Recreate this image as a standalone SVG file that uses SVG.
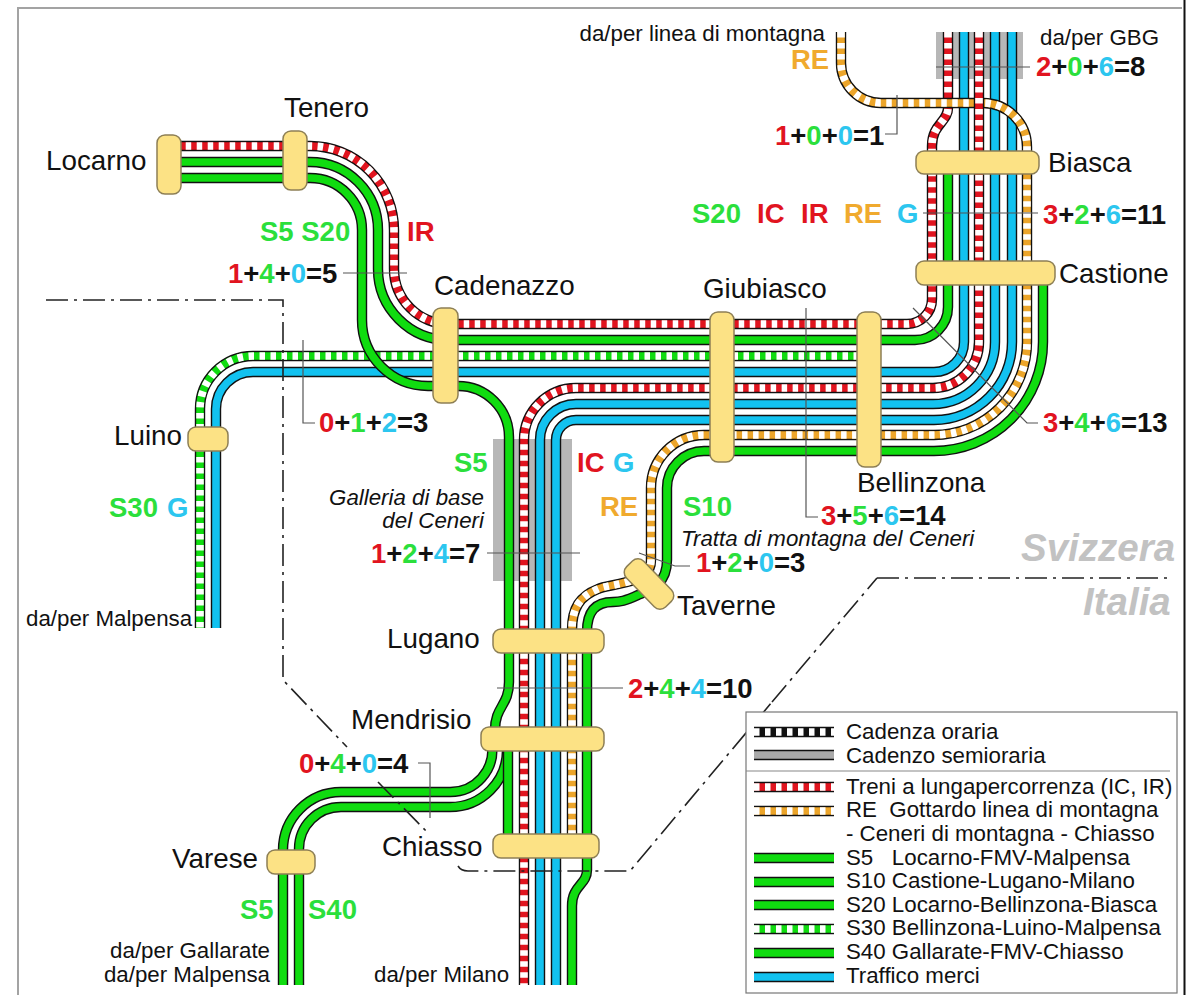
<svg xmlns="http://www.w3.org/2000/svg" xmlns:xlink="http://www.w3.org/1999/xlink" width="1187" height="995" viewBox="0 0 1187 995">
<style>
text{font-family:"Liberation Sans",Arial,sans-serif;fill:#111}
.n{font-size:27.8px}
.s{font-size:22.3px}
.i{font-size:22.3px;font-style:italic}
.b{font-size:27.5px;font-weight:bold}
.R{fill:#e1141f}.G{fill:#2bdf3c}.B{fill:#2cc6ef}.O{fill:#f0aa2e}.K{fill:#111}
.geo{font-size:38.5px;font-weight:bold;font-style:italic;fill:#c2c2c2}
.tr{fill:none;stroke-linecap:butt}
.k{stroke:#111;stroke-width:10.4}
.red{stroke:#e1141f;stroke-width:7.6}
.grn{stroke:#10dc10;stroke-width:7.6}
.blu{stroke:#12c2f0;stroke-width:7.6}
.org{stroke:#eca52a;stroke-width:7.6}
.wd{stroke:#fff;stroke-width:7.6;stroke-dasharray:5.5 5.5}
.node{fill:#fce285;stroke:#8d7f55;stroke-width:1.5}
.lead{fill:none;stroke:#555;stroke-width:1.2}
.bord{fill:none;stroke:#222;stroke-width:1.6;stroke-dasharray:22 6 3 6}
.gray{fill:#b7b7b7}
</style>
<defs>
<path id="pRed1" d="M948 32V108C948 122 932 124 932 146V299A25 25 0 0 1 907 324H449A55 55 0 0 1 394 269V230A84 84 0 0 0 310 146H170"/>
<path id="pRed2" d="M979 32V342A46 46 0 0 1 933 388H576A52 52 0 0 0 524 440V985"/>
<path id="pOrgTop" d="M841 32V63A40 40 0 0 0 881 103H983A44 44 0 0 1 1027 147V342A93 93 0 0 1 934 435H704A53 53 0 0 0 651 488V560C651 575 640 579 627 582C612 586 605 586 598 589C580 596 572 608 572 630V845"/>
<path id="pS30" d="M870 356H253A53 53 0 0 0 200 409V628"/>
<path id="pS20" d="M948 165V307A33 33 0 0 1 915 340H449A71 71 0 0 1 378 269V230A68 68 0 0 0 310 162H170"/>
<path id="pS5" d="M170 178H310A52 52 0 0 1 362 230V320A66 66 0 0 0 428 386H458A51 51 0 0 1 509 437V682C509 706 495 706 495 730"/>
<path id="pS10" d="M1043 272V342A109 109 0 0 1 934 451H704A37 37 0 0 0 667 488V560C667 585 650 590 638 595C625 601 620 602 613 602C595 602 587 612 587 632V870C587 885 572 885 572 906V985"/>
<path id="pS40a" d="M492 745A42 42 0 0 1 450 792H341A58 58 0 0 0 283 850V985"/>
<path id="pS40b" d="M507 750A57 57 0 0 1 450 807H341A42 42 0 0 0 299 849V985"/>
<path id="pS40c" d="M508 740V845"/>
<path id="pB0" d="M216 628V409A37 37 0 0 1 253 372H934A30 30 0 0 0 964 342V32"/>
<path id="pB1" d="M995 32V342A62 62 0 0 1 933 404H576A36 36 0 0 0 540 440V985"/>
<path id="pB2" d="M1012 32V342A78 78 0 0 1 934 420H576A20 20 0 0 0 556 440V985"/>
</defs>

<g id="frame">
<path d="M18 995V8H1182" fill="none" stroke="#a3a3a3" stroke-width="2"/>
<path d="M1184.500 0V995" fill="none" stroke="#111" stroke-width="2"/>
</g>

<g id="tunnels">
<rect class="gray" x="936" y="32" width="87" height="47"/>
<rect class="gray" x="493" y="439" width="79" height="142"/>
</g>

<g id="connectors">
<g class="tr">
<use href="#pB0" class="k"/><use href="#pB0" class="blu"/>
<use href="#pB1" class="k"/><use href="#pB1" class="blu"/>
<use href="#pB2" class="k"/><use href="#pB2" class="blu"/>
<use href="#pS30" class="k"/><use href="#pS30" class="grn"/><use href="#pS30" class="wd"/>
<use href="#pS10" class="k"/><use href="#pS10" class="grn"/>
<use href="#pS20" class="k"/><use href="#pS20" class="grn"/>
<use href="#pS40a" class="k"/><use href="#pS40a" class="grn"/>
<use href="#pS40b" class="k"/><use href="#pS40b" class="grn"/>
<use href="#pS40c" class="k"/><use href="#pS40c" class="grn"/>
<use href="#pS5" class="k"/><use href="#pS5" class="grn"/>
<use href="#pRed1" class="k"/><use href="#pRed1" class="red"/><use href="#pRed1" class="wd"/>
<use href="#pOrgTop" class="k"/><use href="#pOrgTop" class="org"/><use href="#pOrgTop" class="wd"/>
<use href="#pRed2" class="k"/><use href="#pRed2" class="red"/><use href="#pRed2" class="wd"/>
</g>
<g id="leaders">
<path class="lead" d="M936 67H1030"/>
<path class="lead" d="M923 213H1038"/>
<path class="lead" d="M897 95V134H885"/>
<path class="lead" d="M343 273H407"/>
<path class="lead" d="M303 340V423H315"/>
<path class="lead" d="M806 308V517H818"/>
<path class="lead" d="M913 308L1027 423H1038"/>
<path class="lead" d="M487 553H580"/>
<path class="lead" d="M639 553L675 566H690"/>
<path class="lead" d="M497 688H623"/>
<path class="lead" d="M418 763H430V818"/>
</g>
<g id="border">
<path class="bord" d="M46 300H283V680L347 747"/>
<path class="bord" d="M378 782L428 833"/>
<path class="bord" d="M458 866Q461 871 468 871H630L772 702"/>
<path class="bord" d="M877 578H1172"/>
<path class="bord" d="M772 702L877 578"/>
</g>
</g>

<g id="node-locarno"><rect class="node" x="157" y="135" width="24" height="59" rx="8"/><text class="n" x="46" y="170">Locarno</text></g>
<g id="node-tenero"><rect class="node" x="283" y="131" width="24" height="59" rx="8"/><text class="n" x="284" y="117">Tenero</text></g>
<g id="node-cadenazzo"><rect class="node" x="433" y="308" width="25" height="95" rx="8"/><text class="n" x="434" y="295">Cadenazzo</text></g>
<g id="node-giubiasco"><rect class="node" x="710" y="312" width="24" height="150" rx="8"/><text class="n" x="703" y="298">Giubiasco</text></g>
<g id="node-bellinzona"><rect class="node" x="857" y="312" width="24" height="155" rx="8"/><text class="n" x="857" y="492">Bellinzona</text></g>
<g id="node-biasca"><rect class="node" x="916" y="151" width="123" height="23" rx="8"/><text class="n" x="1048" y="172">Biasca</text></g>
<g id="node-castione"><rect class="node" x="916" y="261" width="139" height="24" rx="8"/><text class="n" x="1059" y="283">Castione</text></g>
<g id="node-luino"><rect class="node" x="188" y="427" width="40" height="24" rx="8"/><text class="n" x="114" y="445">Luino</text></g>
<g id="node-taverne"><rect class="node" x="-28" y="-12" width="56" height="24" rx="8" transform="translate(649 584) rotate(46)"/><text class="n" x="677" y="615">Taverne</text></g>
<g id="node-lugano"><rect class="node" x="493" y="629" width="111" height="24" rx="8"/><text class="n" x="387" y="648">Lugano</text></g>
<g id="node-mendrisio"><rect class="node" x="481" y="727" width="123" height="24" rx="8"/><text class="n" x="351" y="729">Mendrisio</text></g>
<g id="node-chiasso"><rect class="node" x="493" y="834" width="106" height="24" rx="8"/><text class="n" x="382" y="856">Chiasso</text></g>
<g id="node-varese"><rect class="node" x="267" y="850" width="48" height="24" rx="8"/><text class="n" x="172" y="868">Varese</text></g>

<g id="labels">
<text class="s" x="825" y="41" text-anchor="end">da/per linea di montagna</text>
<text class="s" x="1040" y="45">da/per GBG</text>
<text class="b O" x="791" y="69">RE</text>
<text class="b" x="775" y="145"><tspan class="R">1</tspan>+<tspan class="G">0</tspan>+<tspan class="B">0</tspan>=1</text>
<text class="b" x="1036" y="76"><tspan class="R">2</tspan>+<tspan class="G">0</tspan>+<tspan class="B">6</tspan>=8</text>
<text class="b G" x="692" y="223">S20</text>
<text class="b R" x="757" y="223">IC</text>
<text class="b R" x="801" y="223">IR</text>
<text class="b O" x="844" y="223">RE</text>
<text class="b B" x="897" y="223">G</text>
<text class="b" x="1043" y="224"><tspan class="R">3</tspan>+<tspan class="G">2</tspan>+<tspan class="B">6</tspan>=11</text>
<text class="b G" x="260" y="241">S5 S20</text>
<text class="b R" x="407" y="241">IR</text>
<text class="b" x="228" y="283"><tspan class="R">1</tspan>+<tspan class="G">4</tspan>+<tspan class="B">0</tspan>=5</text>
<text class="b" x="319" y="432"><tspan class="R">0</tspan>+<tspan class="G">1</tspan>+<tspan class="B">2</tspan>=3</text>
<text class="b" x="1043" y="432"><tspan class="R">3</tspan>+<tspan class="G">4</tspan>+<tspan class="B">6</tspan>=13</text>
<text class="b G" x="454" y="472">S5</text>
<text class="b R" x="577" y="472">IC</text>
<text class="b B" x="613" y="472">G</text>
<text class="b O" x="600" y="516">RE</text>
<text class="b G" x="683" y="516">S10</text>
<text class="b G" x="109" y="517">S30</text>
<text class="b B" x="167" y="517">G</text>
<text class="i" x="484" y="505" text-anchor="end">Galleria di base</text>
<text class="i" x="484" y="528" text-anchor="end">del Ceneri</text>
<text class="b" x="821" y="525"><tspan class="R">3</tspan>+<tspan class="G">5</tspan>+<tspan class="B">6</tspan>=14</text>
<text class="i" x="681" y="546">Tratta di montagna del Ceneri</text>
<text class="b" x="371" y="563"><tspan class="R">1</tspan>+<tspan class="G">2</tspan>+<tspan class="B">4</tspan>=7</text>
<text class="b" x="696" y="572"><tspan class="R">1</tspan>+<tspan class="G">2</tspan>+<tspan class="B">0</tspan>=3</text>
<text class="geo" x="1021" y="561">Svizzera</text>
<text class="geo" x="1083" y="615">Italia</text>
<text class="b" x="628" y="698"><tspan class="R">2</tspan>+<tspan class="G">4</tspan>+<tspan class="B">4</tspan>=10</text>
<text class="b" x="299" y="773"><tspan class="R">0</tspan>+<tspan class="G">4</tspan>+<tspan class="B">0</tspan>=4</text>
<text class="b G" x="240" y="919">S5</text>
<text class="b G" x="308" y="919">S40</text>
<text class="s" x="270" y="958" text-anchor="end">da/per Gallarate</text>
<text class="s" x="270" y="982" text-anchor="end">da/per Malpensa</text>
<text class="s" x="374" y="982">da/per Milano</text>
<text class="s" x="26" y="626">da/per Malpensa</text>
</g>

<g id="legend">
<rect x="746" y="712" width="431" height="281" fill="#fff" stroke="#777" stroke-width="1.2"/>
<path d="M746 771H1170" stroke="#888" stroke-width="1.2" fill="none"/>
<g class="tr">
<path class="k" d="M754 732H834"/><path class="wd" d="M754 732H834"/>
<path class="k" d="M754 755H834"/><path d="M754 755H834" style="stroke:#aaa;stroke-width:7.600"/>
<path class="k" d="M754 787H834"/><path class="red" d="M754 787H834"/><path class="wd" d="M754 787H834"/>
<path class="k" d="M754 811H834"/><path class="org" d="M754 811H834"/><path class="wd" d="M754 811H834"/>
<path class="k" d="M754 858H834"/><path class="grn" d="M754 858H834"/>
<path class="k" d="M754 882H834"/><path class="grn" d="M754 882H834"/>
<path class="k" d="M754 905H834"/><path class="grn" d="M754 905H834"/>
<path class="k" d="M754 929H834"/><path class="grn" d="M754 929H834"/><path class="wd" d="M754 929H834"/>
<path class="k" d="M754 953H834"/><path class="grn" d="M754 953H834"/>
<path class="k" d="M754 977H834"/><path class="blu" d="M754 977H834"/>
</g>
<text class="s" x="846" y="739">Cadenza oraria</text>
<text class="s" x="846" y="763">Cadenzo semioraria</text>
<text class="s" x="846" y="794">Treni a lungapercorrenza (IC, IR)</text>
<text class="s" x="846" y="817" xml:space="preserve">RE  Gottardo linea di montagna</text>
<text class="s" x="846" y="841">- Ceneri di montagna - Chiasso</text>
<text class="s" x="846" y="865" xml:space="preserve">S5   Locarno-FMV-Malpensa</text>
<text class="s" x="846" y="888">S10 Castione-Lugano-Milano</text>
<text class="s" x="846" y="912">S20 Locarno-Bellinzona-Biasca</text>
<text class="s" x="846" y="935">S30 Bellinzona-Luino-Malpensa</text>
<text class="s" x="846" y="959">S40 Gallarate-FMV-Chiasso</text>
<text class="s" x="846" y="983">Traffico merci</text>
</g>
</svg>
